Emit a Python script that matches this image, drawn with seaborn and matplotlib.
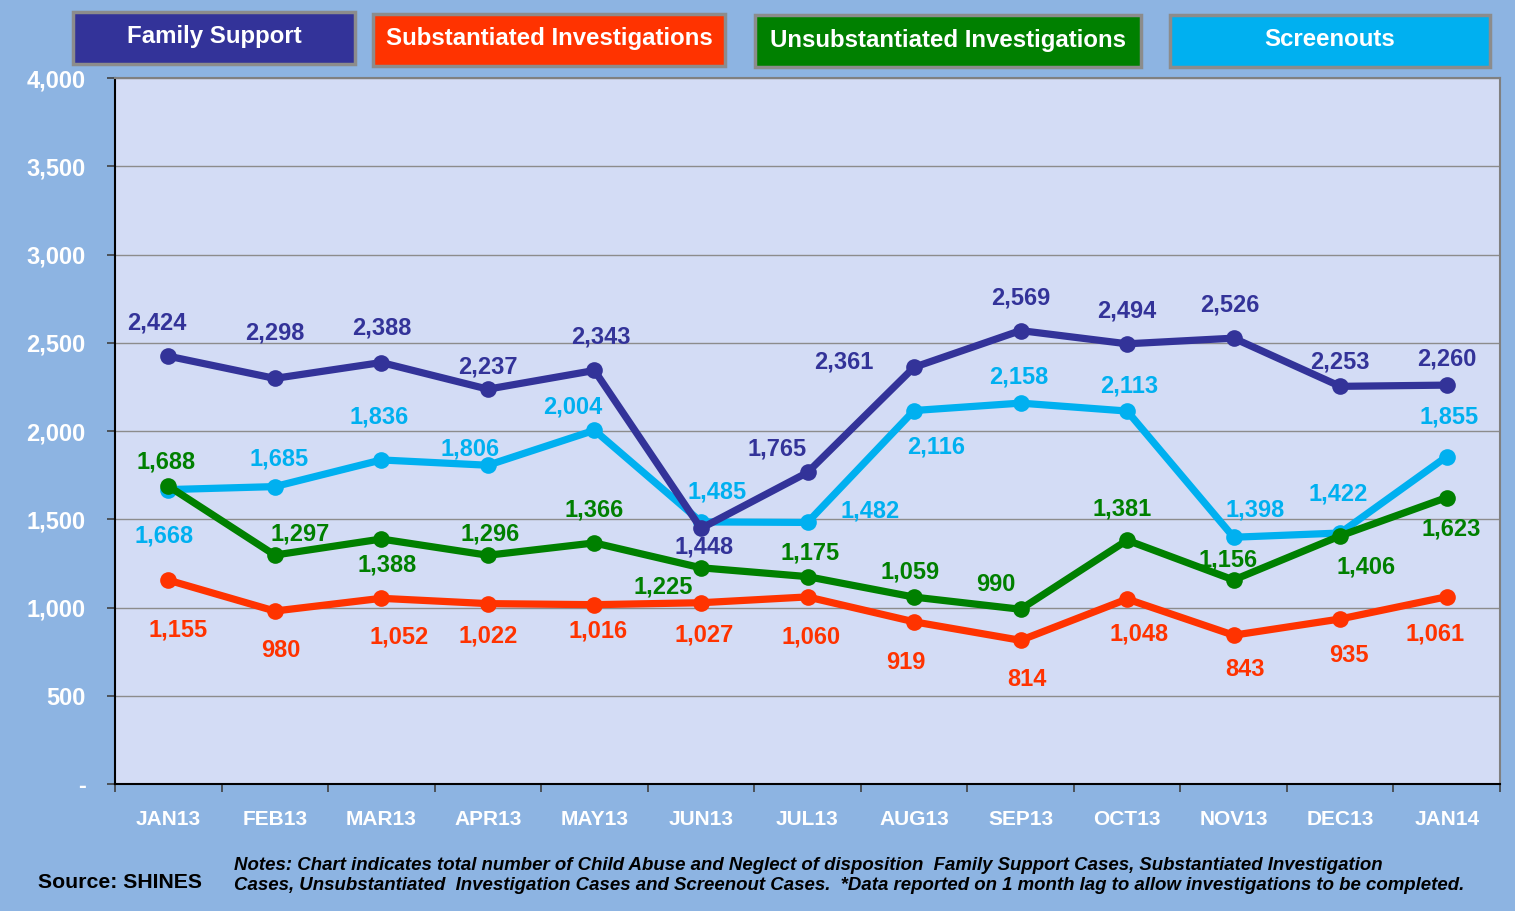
import matplotlib
matplotlib.use("Agg")
import matplotlib.pyplot as plt
from matplotlib.patches import Rectangle
from matplotlib.ticker import FuncFormatter, MultipleLocator
import numpy as np
import pandas as pd
import seaborn as sns

# data
months = ['JAN13', 'FEB13', 'MAR13', 'APR13', 'MAY13', 'JUN13', 'JUL13',
          'AUG13', 'SEP13', 'OCT13', 'NOV13', 'DEC13', 'JAN14']
family_support = [2424, 2298, 2388, 2237, 2343, 1448, 1765, 2361, 2569, 2494, 2526, 2253, 2260]
substantiated = [1155, 980, 1052, 1022, 1016, 1027, 1060, 919, 814, 1048, 843, 935, 1061]
unsubstantiated = [1688, 1297, 1388, 1296, 1366, 1225, 1175, 1059, 990, 1381, 1156, 1406, 1623]
screenouts = [1668, 1685, 1836, 1806, 2004, 1485, 1482, 2116, 2158, 2113, 1398, 1422, 1855]

series_names = ['Family Support', 'Substantiated Investigations',
                'Unsubstantiated Investigations', 'Screenouts']
colors = {'Family Support': '#333399',
          'Substantiated Investigations': '#FF3300',
          'Unsubstantiated Investigations': '#008000',
          'Screenouts': '#00B0F0'}

# label offsets (pixels) for the data labels
label_dx = {
    'Family Support': [-11, 0, 0, 0, 6, 3, -30, -70, 0, 0, -4, 0, 0],
    'Substantiated Investigations': [10, 6, 18, 0, 4, 3, 4, -8, 6, 12, 11, 9, -12],
    'Unsubstantiated Investigations': [-2, 25, 6, 2, 0, -38, 3, -4, -25, -5, -6, 26, 4],
    'Screenouts': [-4, 4, -2, -18, -22, 16, 63, 22, -2, 2, 21, -2, 2],
}
label_dy = {
    'Family Support': [33, 45, 35, 22, 33, -19, 23, 5, 33, 33, 33, 24, 26],
    'Substantiated Investigations': [-50, -39, -39, -32, -26, -32, -40, -41, -39, -35, -34, -37, -37],
    'Unsubstantiated Investigations': [24, 21, -26, 21, 33, -19, 24, 25, 25, 31, 20, -31, -31],
    'Screenouts': [-46, 28, 43, 16, 23, 30, 11, -36, 26, 25, 27, 39, 40],
}

values = {'Family Support': family_support,
          'Substantiated Investigations': substantiated,
          'Unsubstantiated Investigations': unsubstantiated,
          'Screenouts': screenouts}

df = pd.DataFrame([
    {'pos': i, 'month': m, 'series': s, 'value': v}
    for s in series_names for i, (m, v) in enumerate(zip(months, values[s]))
])

sns.set_theme(style='white')
plt.rcParams['font.family'] = ['Liberation Sans', 'DejaVu Sans']

fig = plt.figure(figsize=(15.15, 9.11), dpi=100)
fig.patch.set_facecolor('#8DB4E2')
ax = fig.add_axes([115 / 1515, 1 - 784 / 911, 1385 / 1515, 706 / 911])
ax.set_facecolor('#D3DCF5')

draw_order = ['Screenouts', 'Family Support', 'Substantiated Investigations',
              'Unsubstantiated Investigations']
sns.lineplot(data=df, x='pos', y='value', hue='series', hue_order=draw_order,
             palette=colors, linewidth=5.2, marker='o', markersize=12,
             markeredgewidth=0, legend=False, ax=ax)

for s in series_names:
    for i, v in enumerate(values[s]):
        ax.annotate(f'{v:,}', (i, v), textcoords='offset pixels',
                    xytext=(label_dx[s][i], label_dy[s][i]),
                    ha='center', va='center', fontsize=17, fontweight='bold',
                    color=colors[s])

ax.set_xlim(-0.5, len(months) - 0.5)
ax.set_ylim(0, 4000)
ax.yaxis.set_major_locator(MultipleLocator(500))
ax.yaxis.set_major_formatter(FuncFormatter(lambda v, p: '-' if v == 0 else f'{int(v):,}'))
ax.set_xticks(range(len(months)))
ax.set_xticklabels(months)
ax.set_xticks(np.arange(-0.5, len(months), 1), minor=True)
ax.tick_params(axis='x', which='both', bottom=True)
ax.tick_params(axis='x', which='major', length=0, pad=19, labelsize=15,
               labelcolor='white')
ax.tick_params(axis='x', which='minor', length=6, width=1.2, color='#404040')
ax.tick_params(axis='y', left=True, length=6, width=1.2, color='#404040', pad=15,
               labelsize=17, labelcolor='white')
for lab in ax.get_xticklabels() + ax.get_yticklabels():
    lab.set_fontweight('bold')
ax.grid(axis='y', color='#8C8C8C', linewidth=1)
ax.set_axisbelow(True)
ax.set_xlabel('')
ax.set_ylabel('')
for side in ['top', 'right']:
    ax.spines[side].set_color('#808080')
    ax.spines[side].set_linewidth(1.5)
for side in ['left', 'bottom']:
    ax.spines[side].set_color('black')
    ax.spines[side].set_linewidth(1.5)

# legend boxes at the top
boxes = [(73, 12, 282, 52), (373, 14, 352, 52), (755, 15, 386, 52), (1170, 15, 320, 52)]
for s, (x0, y0, w, h) in zip(series_names, boxes):
    fig.patches.append(Rectangle((x0 / 1515, 1 - (y0 + h) / 911), w / 1515, h / 911,
                                 transform=fig.transFigure, facecolor=colors[s],
                                 edgecolor='#8C8C8C', linewidth=2.5))
    fig.text((x0 + w / 2) / 1515, 1 - (y0 + h / 2 - 1) / 911, s, ha='center', va='center',
             color='white', fontsize=17.3, fontweight='bold')

fig.text(38 / 1515, 1 - 882 / 911, 'Source: SHINES', ha='left', va='center',
         fontsize=15.3, fontweight='bold', color='black')
fig.text(234 / 1515, 1 - 865 / 911,
         'Notes: Chart indicates total number of Child Abuse and Neglect of disposition  '
         'Family Support Cases, Substantiated Investigation',
         ha='left', va='center', fontsize=13.4, fontweight='bold', style='italic',
         color='black')
fig.text(234 / 1515, 1 - 886 / 911,
         'Cases, Unsubstantiated  Investigation Cases and Screenout Cases.  '
         '*Data reported on 1 month lag to allow investigations to be completed.',
         ha='left', va='center', fontsize=13.4, fontweight='bold', style='italic',
         color='black')

fig.savefig('out.png', dpi=100, facecolor=fig.get_facecolor())
